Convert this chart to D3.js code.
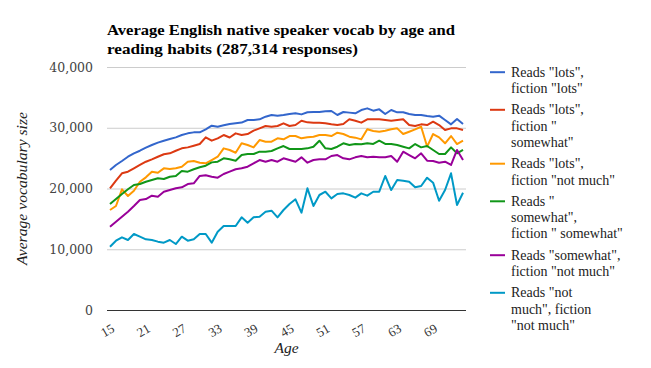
<!DOCTYPE html>
<html><head><meta charset="utf-8">
<script src="https://cdn.jsdelivr.net/npm/d3@7"></script>
<style>body{margin:0;background:#fff}svg{display:block}</style>
</head><body><svg id="c" width="651" height="368"></svg>
<script>
const ages = d3.range(15, 75);
const xTickLabels = [15, 21, 27, 33, 39, 45, 51, 57, 63, 69];
const yTicks = [0, 10000, 20000, 30000, 40000];
const titleLines = ["Average English native speaker vocab by age and", "reading habits (287,314 responses)"];
const seriesNames = [
  ['Reads "lots",', 'fiction "lots"'],
  ['Reads "lots",', 'fiction "', 'somewhat"'],
  ['Reads "lots",', 'fiction "not much"'],
  ['Reads "', 'somewhat",', 'fiction " somewhat"'],
  ['Reads "somewhat",', 'fiction "not much"'],
  ['Reads "not', 'much", fiction', '"not much"']
];
const colors = ["#3366cc", "#dc3912", "#ff9900", "#109618", "#990099", "#0099c6"];
const lotsLots = [23040,23870,24530,25230,25790,26220,26720,27160,27550,27870,28150,28420,28800,29080,29240,29240,29740,30340,30170,30400,30620,30730,30850,31270,31270,31380,31820,32100,31990,32100,32260,32370,32200,32540,32590,32590,32700,32760,32100,32590,32490,32370,32920,33190,32810,33030,32260,32920,32540,32540,32260,32100,32100,31930,31820,31990,31270,30560,31440,30620];
const lotsSomewhat = [20030,21300,22500,22770,23320,23870,24410,24800,25230,25630,25790,26220,26610,26770,27050,27320,28420,27870,28260,28800,28400,29080,28800,28970,29520,29900,30290,30170,30290,30730,30290,30450,31160,30890,30840,30840,30730,30560,30450,30620,31390,31160,30840,31390,31390,31390,31270,31160,31270,31390,30450,30290,30560,30450,31000,30450,29630,29900,29900,29630];
const lotsNotMuch = [16460,17120,19870,18760,19640,21120,21840,22770,22600,23320,23210,23320,23590,24410,24520,24250,24140,24690,25230,26610,26340,25890,27440,27160,26770,27980,27710,27710,28260,28090,28640,28640,28260,28420,28530,28800,28800,28640,29190,28970,28530,28370,28090,29740,29460,29350,29520,29740,29900,28970,29350,29740,30170,26900,28970,28420,27440,28640,27320,27870];
const somewhatSomewhat = [17450,18270,19090,19870,20580,20740,21120,21400,21680,21560,21940,22050,22880,22770,23160,23490,23750,24300,24410,24970,24800,24580,25510,25680,25680,26060,26060,26170,26610,26990,26500,26500,26500,26610,26880,27870,26610,26500,26880,27440,27160,27330,27270,27440,27330,27870,27330,27330,27160,26880,26610,27320,26770,26990,26340,25680,25680,26770,25790,26340];
const somewhatNotMuch = [13710,14530,15360,16180,17120,18110,18270,18820,18650,19470,19750,20030,20190,20740,20850,22060,22170,21940,21780,22390,22770,23160,23320,23590,24140,24690,24410,24690,24410,24970,24690,24410,25130,24250,24690,24800,24800,25350,25510,24970,24800,25130,25350,25130,25240,25130,25130,25350,24410,26060,25510,24970,25790,24580,24520,24250,24410,23870,26340,24690];
const notMuchNotMuch = [10420,11410,11960,11520,12510,12070,11630,11520,11250,11080,11520,10860,12070,11410,11630,12510,12510,11080,12890,13830,13830,13830,15250,14370,15250,15360,16180,16350,15250,16460,17450,18220,16020,20030,17120,18930,19470,18380,19090,19200,18930,18490,19200,18820,19470,19470,22060,19750,21400,21290,21120,20190,20410,21780,20960,17990,19750,22500,17280,19310];
const series = [lotsLots, lotsSomewhat, lotsNotMuch, somewhatSomewhat, somewhatNotMuch, notMuchNotMuch];

const svg = d3.select("#c");
const L = 107, R = 466, T = 67, B = 310;
const x = d3.scalePoint().domain(ages).range([L, R]).padding(0.5);
const y = d3.scaleLinear().domain([0, 40000]).range([B, T]);
const tickFont = "'DejaVu Serif', Georgia, serif";
const serif = "'Liberation Serif', 'Times New Roman', serif";

// title
const titleTargets = [348, 251];
titleLines.forEach((t, i) => {
  const el = svg.append("text").attr("x", L).attr("y", 34.5 + i * 19)
    .attr("font-family", serif).attr("font-weight", "bold").attr("font-size", 15.5)
    .attr("fill", "#000").text(t);
  const w = el.node().getComputedTextLength();
  if (Math.abs(w - titleTargets[i]) > 2) el.attr("textLength", titleTargets[i]).attr("lengthAdjust", "spacingAndGlyphs");
});

// y grid + labels
const yAxis = d3.axisLeft(y).tickValues(yTicks).tickSize(-(R - L)).tickFormat(d3.format(","));
const gy = svg.append("g").attr("transform", `translate(${L},0)`).call(yAxis);
gy.select(".domain").remove();
gy.selectAll(".tick line").attr("stroke", d => d === 0 ? "#333" : "#ccc").attr("stroke-width", 1);
gy.selectAll(".tick text").attr("x", -14).attr("font-family", tickFont).attr("font-size", 12.5).attr("fill", "#444");

// x axis labels
const gx = svg.append("g");
gx.selectAll("text").data(xTickLabels).join("text")
  .attr("transform", d => `translate(${x(d) + 3},${327}) rotate(-30)`)
  .attr("text-anchor", "end").attr("font-family", serif).attr("font-size", 13).attr("fill", "#333")
  .attr("dy", "0.35em").text(d => d);

// axis titles
svg.append("text").attr("transform", `translate(27,${(T + B) / 2}) rotate(-90)`).attr("text-anchor", "middle")
  .attr("font-family", serif).attr("font-style", "italic").attr("font-size", 15.5).attr("fill", "#222")
  .attr("textLength", 153).attr("lengthAdjust", "spacingAndGlyphs").text("Average vocabulary size");
svg.append("text").attr("x", (L + R) / 2).attr("y", 353).attr("text-anchor", "middle")
  .attr("font-family", serif).attr("font-style", "italic").attr("font-size", 15.5).attr("fill", "#222").text("Age");

// lines
const line = d3.line().x((d, i) => x(ages[i])).y(d => y(d));
svg.append("g").selectAll("path").data(series).join("path")
  .attr("d", line).attr("fill", "none").attr("stroke", (d, i) => colors[i])
  .attr("stroke-width", 2).attr("stroke-linejoin", "round");

// legend
const lg = svg.append("g");
let by = 76.7;
seriesNames.forEach((lines, i) => {
  lg.append("line").attr("x1", 490).attr("x2", 505).attr("y1", by - 4.5).attr("y2", by - 4.5)
    .attr("stroke", colors[i]).attr("stroke-width", 2);
  lines.forEach((t, j) => {
    lg.append("text").attr("x", 511).attr("y", by + j * 16.3).attr("font-family", serif)
      .attr("font-size", 14).attr("fill", "#222").text(t);
  });
  by += lines.length * 16.3 + 5;
});
</script></body></html>
